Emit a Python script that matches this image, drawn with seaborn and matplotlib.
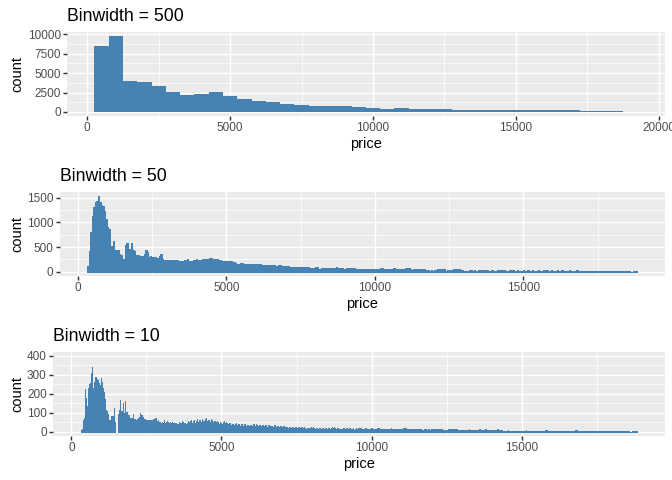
import numpy as np
import pandas as pd
import matplotlib
matplotlib.use("Agg")
import matplotlib.pyplot as plt
from matplotlib.ticker import FixedLocator
import seaborn as sns

# ---- data: diamond price histograms ----
# counts per bin, bins laid out from BIN_START with the given width

BIN500_START = 250
BIN500_COUNTS = [8490, 9850, 3965, 3836, 3319, 2543, 2155, 2284, 2543, 2026,
                 1638, 1379, 1250, 991, 862, 740, 720, 735, 600, 520,
                 390, 520, 400, 385, 390, 260, 255, 262, 250, 258,
                 245, 252, 240, 235, 130, 128, 132, 20]

BIN50_START = 325
BIN50_COUNTS = [
    115, 425, 800, 1120, 1300, 1400, 1420, 1540, 1400, 1340,
    1330, 1220, 1070, 900, 860, 530, 520, 620, 440, 450,
    450, 360, 340, 0, 253, 533, 580, 453, 453, 580,
    433, 413, 333, 333, 347, 313, 300, 313, 367, 433,
    393, 300, 313, 300, 280, 300, 287, 287, 327, 353,
    253, 235, 240, 230, 225, 235, 230, 240, 225, 230,
    235, 220, 228, 213, 210, 233, 225, 253, 213, 215,
    210, 247, 240, 250, 245, 248, 240, 267, 260, 253,
    260, 250, 270, 277, 250, 255, 264, 260, 237, 235,
    223, 210, 212, 208, 210, 223, 215, 196, 192, 183,
    162, 165, 160, 176, 172, 162, 160, 165, 158, 160,
    149, 150, 147, 150, 155, 162, 150, 142, 140, 145,
    138, 142, 140, 136, 142, 138, 125, 115, 135, 130,
    115, 118, 112, 115, 118, 122, 100, 95, 97, 93,
    95, 96, 92, 95, 94, 96, 93, 95, 92, 81,
    80, 83, 88, 95, 90, 61, 65, 74, 72, 75,
    70, 74, 73, 76, 72, 74, 70, 95, 88, 74,
    76, 72, 61, 60, 70, 74, 72, 75, 73, 70,
    61, 63, 60, 67, 65, 68, 62, 61, 60, 62,
    58, 61, 60, 62, 59, 60, 47, 74, 70, 54,
    55, 52, 54, 56, 53, 54, 74, 54, 52, 55,
    53, 54, 52, 50, 72, 74, 72, 60, 47, 54,
    52, 55, 53, 54, 51, 55, 52, 27, 47, 45,
    27, 47, 27, 45, 47, 54, 52, 54, 53, 55,
    52, 27, 30, 28, 47, 45, 54, 54, 52, 54,
    52, 34, 34, 27, 27, 25, 27, 30, 47, 27,
    28, 26, 27, 29, 27, 47, 27, 28, 26, 47,
    27, 26, 28, 27, 25, 27, 28, 47, 28, 26,
    29, 27, 24, 27, 30, 26, 28, 25, 27, 29,
    26, 27, 24, 28, 27, 26, 29, 25, 27, 28,
    26, 24, 27, 29, 26, 27, 25, 28, 26, 47,
    27, 25, 28, 26, 24, 27, 29, 25, 26, 28,
    24, 27, 26, 25, 28, 24, 26, 27, 25, 47,
    8, 25, 23, 26, 24, 22, 25, 24, 23, 26,
    22, 24, 25, 23, 21, 24, 25, 22, 23, 24,
    21, 23, 22, 24, 20, 22, 23, 21, 22, 20,
    23, 21, 20, 22, 21, 6, 6, 22, 20, 18,
]

BIN10_START = 325
BIN10_COUNTS = [
    # 325
    5, 8, 10, 14, 16, 30, 40, 44, 62, 74, 70, 72, 225, 160, 170, 179, 150, 172, 135, 128,
    132, 120, 232, 215, 220, 240, 225, 235, 250, 258, 240, 245, 295, 310, 285, 340, 300, 290, 228, 220,
    215, 225, 263, 245, 250, 245, 230, 240, 290, 270,
    # 825
    275, 280, 280, 265, 270, 271, 260, 255, 149, 140, 145, 135, 245, 230, 235, 285, 255, 260, 228, 215,
    220, 225, 228, 205, 210, 184, 170, 175, 140, 130, 125, 114, 108, 105, 110, 96, 90, 92, 96, 88,
    90, 61, 58, 60, 55, 65, 62, 60, 74, 70,
    # 1325
    72, 82, 78, 80, 82, 80, 78, 75, 123, 90, 95, 52, 45, 0, 0, 0, 0, 0, 0, 0,
    0, 0, 96, 90, 95, 114, 105, 110, 170, 118, 120, 110, 105, 98, 100, 96, 110, 105, 100, 150,
    108, 95, 100, 90, 96, 160, 92, 95, 98, 102,
    # 1825
    92, 85, 80, 105, 81, 88, 76, 90, 80, 79, 70, 62, 75, 60, 66, 64, 72, 58, 70, 69,
    66, 75, 62, 95, 64, 60, 66, 58, 70, 59, 62, 55, 64, 60, 59, 58, 66, 70, 60, 59,
    72, 68, 80, 70, 77, 85, 100, 80, 88, 80,
    # 2325
    82, 75, 90, 70, 76, 58, 62, 55, 66, 59, 60, 68, 58, 65, 62, 55, 64, 60, 58, 63,
    52, 60, 55, 58, 55, 62, 56, 60, 64, 58, 55, 60, 52, 62, 58, 58, 54, 60, 56, 59,
    62, 70, 60, 68, 67, 75, 68, 72, 66, 72,
    # 2825
    52, 48, 55, 50, 48, 45, 60, 44, 48, 48, 47, 52, 45, 50, 46, 44, 48, 46, 50, 42,
    43, 48, 45, 46, 43, 47, 62, 44, 48, 44, 46, 42, 50, 45, 47, 48, 58, 46, 50, 44,
    43, 48, 45, 46, 43, 46, 50, 44, 48, 42,
    # 3325
    48, 44, 52, 46, 45, 43, 46, 42, 45, 44, 45, 48, 44, 47, 44, 42, 45, 41, 44, 41,
    40, 44, 42, 43, 41, 46, 50, 44, 48, 45, 44, 47, 42, 48, 44, 50, 56, 48, 52, 47,
    42, 45, 41, 44, 41, 43, 46, 41, 44, 41,
    # 3825
    41, 44, 38, 46, 41, 46, 58, 45, 51, 47, 44, 50, 45, 56, 45, 47, 62, 46, 49, 46,
    45, 52, 46, 57, 40, 46, 65, 44, 48, 45, 44, 51, 45, 55, 45, 50, 68, 48, 52, 49,
    48, 63, 47, 54, 48, 47, 60, 46, 52, 48,
    # 4325
    49, 70, 47, 50, 44, 46, 58, 45, 55, 46, 50, 66, 48, 56, 50, 52, 72, 50, 55, 48,
    46, 60, 45, 52, 47, 47, 62, 46, 53, 47, 49, 68, 48, 52, 47, 48, 64, 47, 54, 47,
    44, 58, 43, 48, 44, 44, 56, 42, 50, 43,
    # 4825
    42, 55, 41, 46, 39, 40, 50, 38, 44, 38, 39, 52, 38, 45, 38, 40, 48, 39, 43, 38,
    39, 53, 38, 42, 38, 42, 56, 41, 45, 39, 40, 54, 39, 44, 38, 37, 48, 36, 40, 35,
    36, 47, 35, 39, 35, 35, 45, 34, 37, 32,
    # 5325
    30, 42, 29, 33, 28, 31, 40, 30, 34, 30, 30, 41, 29, 32, 28, 33, 46, 32, 35, 30,
    32, 44, 31, 35, 30, 30, 42, 29, 33, 28, 30, 40, 29, 33, 28, 31, 43, 30, 33, 28,
    29, 41, 28, 32, 28, 30, 41, 29, 32, 28,
    # 5825
    27, 38, 26, 31, 27, 28, 37, 27, 31, 27, 27, 38, 26, 30, 26, 28, 38, 27, 30, 27,
    29, 39, 28, 32, 27, 30, 42, 29, 33, 28, 28, 40, 27, 30, 25, 26, 38, 25, 29, 24,
    26, 37, 25, 28, 24, 27, 38, 26, 29, 25,
    # 6325
    25, 36, 24, 29, 24, 26, 37, 25, 29, 25, 26, 36, 25, 28, 25, 25, 35, 24, 28, 24,
    26, 37, 25, 29, 25, 25, 36, 24, 29, 24, 23, 33, 22, 26, 21, 21, 30, 20, 24, 20,
    25, 35, 24, 27, 24, 24, 34, 23, 26, 23,
    # 6825
    21, 30, 20, 24, 20, 22, 31, 21, 24, 20, 21, 29, 20, 23, 19, 21, 30, 20, 24, 20,
    22, 31, 21, 24, 20, 23, 32, 22, 25, 20, 18, 26, 17, 21, 18, 17, 25, 16, 20, 17,
    18, 26, 17, 20, 16, 17, 24, 16, 19, 17,
    # 7325
    17, 25, 16, 20, 17, 18, 25, 17, 20, 16, 17, 24, 16, 19, 16, 17, 25, 16, 20, 17,
    17, 24, 16, 20, 17, 18, 25, 17, 20, 16, 17, 24, 16, 20, 16, 17, 25, 16, 20, 17,
    17, 24, 16, 19, 16, 15, 21, 14, 17, 14,
    # 7825
    15, 21, 14, 17, 13, 15, 22, 14, 18, 14, 16, 23, 15, 19, 15, 17, 25, 16, 20, 17,
    16, 24, 15, 19, 16, 11, 17, 10, 13, 10, 12, 18, 11, 14, 10, 13, 20, 12, 16, 13,
    13, 19, 12, 15, 13, 14, 20, 13, 15, 13,
    # 8325
    13, 19, 12, 14, 12, 14, 20, 13, 15, 12, 13, 20, 12, 15, 13, 14, 21, 13, 15, 13,
    13, 20, 12, 15, 12, 14, 20, 13, 15, 12, 13, 19, 12, 14, 12, 18, 26, 17, 19, 15,
    17, 24, 16, 18, 13, 14, 20, 13, 15, 12,
    # 8825
    14, 21, 13, 16, 12, 13, 20, 12, 15, 12, 11, 17, 10, 13, 10, 11, 17, 10, 12, 10,
    13, 19, 12, 14, 12, 14, 20, 13, 15, 12, 13, 20, 12, 15, 12, 14, 21, 13, 15, 12,
    14, 20, 13, 14, 12, 13, 19, 12, 14, 12,
    # 9325
    11, 17, 10, 13, 10, 12, 18, 11, 12, 10, 11, 17, 10, 12, 10, 12, 19, 11, 14, 11,
    12, 18, 11, 14, 10, 13, 19, 12, 14, 10, 11, 18, 10, 13, 10, 11, 17, 10, 13, 10,
    11, 17, 10, 12, 10, 11, 18, 10, 13, 10,
    # 9825
    11, 16, 10, 12, 9, 11, 17, 10, 13, 10, 11, 17, 10, 12, 10, 12, 18, 11, 12, 9,
    11, 17, 10, 12, 9, 11, 17, 10, 12, 10, 9, 14, 8, 9, 7, 14, 20, 13, 15, 12,
    13, 19, 12, 15, 11, 10, 16, 9, 11, 8,
    # 10325
    10, 16, 9, 11, 9, 10, 15, 9, 10, 8, 10, 16, 9, 11, 8, 10, 16, 10, 11, 9,
    10, 15, 9, 11, 8, 10, 16, 9, 11, 8, 14, 20, 13, 15, 12, 10, 16, 9, 11, 8,
    10, 15, 9, 10, 8, 10, 16, 10, 11, 8,
    # 10825
    10, 15, 9, 11, 8, 10, 16, 9, 11, 8, 10, 15, 9, 10, 8, 9, 15, 9, 10, 7,
    14, 20, 13, 14, 11, 14, 21, 13, 15, 11, 14, 20, 13, 14, 11, 12, 17, 11, 12, 8,
    9, 14, 8, 9, 7, 10, 16, 9, 11, 8,
    # 11325
    10, 15, 9, 10, 8, 10, 16, 10, 11, 8, 10, 15, 10, 10, 8, 10, 16, 9, 11, 8,
    10, 15, 9, 10, 7, 10, 16, 10, 11, 8, 10, 15, 9, 10, 8, 5, 9, 4, 5, 4,
    9, 14, 8, 9, 7, 9, 13, 8, 9, 6,
    # 11825
    5, 9, 5, 5, 3, 9, 14, 8, 9, 7, 5, 9, 5, 5, 3, 9, 13, 8, 9, 6,
    9, 14, 8, 9, 7, 10, 16, 10, 10, 8, 10, 15, 9, 10, 8, 10, 16, 10, 10, 8,
    10, 15, 10, 10, 8, 10, 16, 10, 11, 8,
    # 12325
    10, 15, 9, 10, 8, 5, 9, 5, 5, 3, 6, 10, 5, 6, 3, 5, 9, 5, 6, 3,
    9, 14, 8, 9, 7, 9, 13, 8, 9, 6, 10, 16, 10, 10, 8, 10, 16, 10, 10, 8,
    10, 15, 9, 10, 8, 10, 16, 10, 10, 8,
    # 12825
    10, 15, 9, 10, 8, 7, 11, 6, 6, 4, 7, 11, 6, 6, 4, 5, 9, 5, 5, 3,
    5, 9, 5, 5, 3, 5, 8, 5, 4, 3, 5, 9, 5, 5, 3, 6, 10, 5, 6, 3,
    9, 14, 8, 9, 7, 5, 9, 5, 5, 3,
    # 13325
    6, 9, 5, 5, 3, 5, 8, 5, 5, 3, 5, 9, 5, 5, 3, 6, 10, 5, 5, 3,
    5, 9, 5, 5, 3, 9, 14, 8, 9, 7, 5, 9, 5, 5, 3, 6, 9, 5, 5, 3,
    5, 8, 5, 5, 3, 9, 14, 8, 9, 7,
    # 13825
    5, 9, 5, 5, 3, 5, 8, 5, 5, 3, 6, 9, 5, 5, 3, 5, 9, 5, 5, 3,
    5, 8, 5, 4, 3, 5, 9, 5, 5, 3, 6, 9, 5, 5, 3, 9, 14, 8, 9, 7,
    5, 9, 5, 5, 3, 5, 8, 5, 4, 3,
    # 14325
    5, 8, 6, 5, 5, 6, 4, 7, 5, 5, 4, 6, 5, 3, 6, 5, 7, 5, 6, 4,
    6, 8, 5, 6, 5, 5, 6, 4, 7, 4, 6, 5, 7, 5, 5, 5, 4, 6, 5, 5,
    6, 5, 7, 4, 5, 6, 7, 5, 6, 5,
    # 14825
    5, 6, 4, 6, 5, 7, 5, 6, 5, 4, 5, 3, 6, 5, 5, 6, 5, 7, 4, 6,
    5, 6, 4, 5, 7, 5, 4, 6, 6, 5, 8, 5, 5, 4, 6, 4, 6, 5, 5, 6,
    5, 5, 7, 4, 5, 6, 5, 4, 6, 5,
    # 15325
    5, 6, 4, 5, 6, 5, 4, 6, 5, 5, 7, 5, 4, 6, 5, 5, 6, 5, 4, 5,
    6, 4, 5, 5, 7, 4, 5, 6, 5, 4, 5, 7, 5, 4, 6, 5, 5, 4, 6, 5,
    6, 4, 5, 5, 5, 9, 11, 8, 10, 9,
    # 15825
    6, 5, 4, 6, 6, 5, 4, 6, 5, 5, 6, 5, 7, 5, 5, 5, 6, 4, 5, 6,
    4, 5, 5, 6, 4, 5, 6, 7, 5, 4, 6, 5, 5, 7, 6, 5, 4, 6, 5, 5,
    6, 5, 5, 4, 6, 5, 6, 5, 7, 5,
    # 16325
    4, 5, 6, 5, 4, 6, 5, 5, 4, 7, 5, 6, 5, 5, 5, 5, 4, 6, 5, 5,
    6, 5, 7, 4, 6, 4, 5, 6, 5, 4, 5, 6, 5, 5, 5, 6, 5, 5, 4, 7,
    5, 4, 6, 5, 5, 9, 10, 11, 8, 9,
    # 16825
    2, 1, 2, 1, 2, 5, 4, 6, 5, 5, 4, 5, 5, 4, 5, 6, 5, 4, 6, 5,
    5, 4, 6, 5, 4, 4, 5, 4, 5, 4, 5, 6, 4, 4, 5, 5, 4, 5, 5, 4,
    6, 5, 4, 6, 5, 4, 5, 4, 5, 4,
    # 17325
    5, 4, 5, 6, 4, 6, 5, 5, 4, 5, 4, 5, 5, 4, 5, 3, 5, 4, 5, 4,
    5, 4, 6, 4, 5, 6, 5, 4, 5, 5, 4, 5, 4, 5, 4, 5, 4, 5, 4, 5,
    5, 4, 6, 5, 4, 4, 3, 5, 5, 4,
    # 17825
    5, 4, 4, 5, 5, 5, 4, 5, 3, 4, 5, 4, 5, 4, 4, 4, 5, 3, 4, 5,
    5, 4, 5, 4, 5, 5, 4, 4, 5, 4, 4, 5, 4, 4, 4, 5, 4, 4, 5, 4,
    4, 3, 5, 4, 4, 4, 4, 3, 5, 4,
    # 18325
    4, 5, 3, 4, 4, 5, 4, 3, 5, 4, 4, 4, 5, 3, 4, 4, 3, 4, 5, 4,
    4, 5, 3, 4, 4, 1, 1, 2, 1, 1, 1, 2, 1, 1, 1, 5, 4, 5, 4, 4,
    4, 3, 5, 4, 4, 4, 3, 4, 4, 3,
]

TITLES = ["Binwidth = 500", "Binwidth = 50", "Binwidth = 10"]
X_BREAKS = [[0, 5000, 10000, 15000, 20000], [0, 5000, 10000, 15000], [0, 5000, 10000, 15000]]
X_MINOR = [2500, 7500, 12500, 17500]
Y_BREAKS = [[0, 2500, 5000, 7500, 10000], [0, 500, 1000, 1500], [0, 100, 200, 300, 400]]
Y_MINOR = [[1250, 3750, 6250, 8750], [250, 750, 1250], [50, 150, 250, 350]]

# ---- styling (ggplot2 theme_grey look) ----
FILL = "#4682B4"
PANEL_BG = "#EBEBEB"
TICK_TEXT = "#4D4D4D"
TICK_COLOR = "#333333"

sns.set_theme(style="darkgrid", rc={"axes.facecolor": PANEL_BG, "grid.color": "white"})
plt.rcParams["font.family"] = ["Liberation Sans", "DejaVu Sans"]

W, H = 672, 480
fig = plt.figure(figsize=(W / 96, H / 96), dpi=96, facecolor="white")

# panel boxes in pixels: left, top, bottom (right edge shared)
PANEL_BOX = [(67.3, 31.7, 115.7), (60.0, 191.7, 275.7), (53.3, 351.7, 435.7)]
RIGHT = 664.5

# (counts, first bin start, binwidth, fixed y limits, bar outline width)
panels = [
    (BIN500_COUNTS, BIN500_START, 500, None, 0.0),
    (BIN50_COUNTS, BIN50_START, 50, None, 0.75),
    (BIN10_COUNTS, BIN10_START, 10, (-20, 421), 0.55),
]

for k, (counts, start, width, ylim, lw) in enumerate(panels):
    left, top, bottom = PANEL_BOX[k]
    ax = fig.add_axes([left / W, 1 - bottom / H, (RIGHT - left) / W, (bottom - top) / H])

    n = len(counts)
    lo, hi = start, start + width * n
    centers = start + width * (np.arange(n) + 0.5)
    df = pd.DataFrame({"price": centers, "count": counts})
    sns.histplot(data=df, x="price", weights="count", binwidth=width, binrange=(lo, hi),
                 ax=ax, color=FILL, alpha=1, edgecolor=FILL,
                 linewidth=lw, antialiased=(lw == 0))
    for p in ax.patches:
        if p.get_height() <= 0:
            p.set_visible(False)

    # ggplot style limits: 5% expansion
    pad = 0.05 * (hi - lo)
    ax.set_xlim(lo - pad, hi + pad)
    if ylim is None:
        m = max(counts)
        ylim = (-0.05 * m, 1.05 * m)
    ax.set_ylim(*ylim)

    ax.xaxis.set_major_locator(FixedLocator(X_BREAKS[k]))
    ax.xaxis.set_minor_locator(FixedLocator(X_MINOR))
    ax.yaxis.set_major_locator(FixedLocator(Y_BREAKS[k]))
    ax.yaxis.set_minor_locator(FixedLocator(Y_MINOR[k]))
    ax.set_xticklabels([str(v) for v in X_BREAKS[k]])
    ax.set_yticklabels([str(v) for v in Y_BREAKS[k]])

    ax.set_axisbelow(True)
    ax.grid(which="major", color="white", linewidth=1.07)
    ax.grid(which="minor", color="white", linewidth=0.53)
    for s in ax.spines.values():
        s.set_visible(False)
    ax.tick_params(which="major", direction="out", length=2.75, width=1.07,
                   color=TICK_COLOR, labelcolor=TICK_TEXT, labelsize=8.8, pad=2.2,
                   bottom=True, left=True)
    ax.tick_params(which="minor", length=0)

    ax.set_title(TITLES[k], loc="left", fontsize=13.2, color="black", pad=7.8)

    ax.set_xlabel("price", fontsize=11, color="black")
    ax.xaxis.label.set_verticalalignment("baseline")
    ax.xaxis.set_label_coords((left + RIGHT) / 2 / W, 1 - (147.6 + 160 * k) / H,
                              transform=fig.transFigure)
    ax.set_ylabel("count", fontsize=11, color="black")
    ax.yaxis.label.set_verticalalignment("baseline")
    ax.yaxis.set_label_coords(21.7 / W, 1 - (top + bottom) / 2 / H,
                              transform=fig.transFigure)

fig.savefig("out.png", dpi=96, facecolor="white")
